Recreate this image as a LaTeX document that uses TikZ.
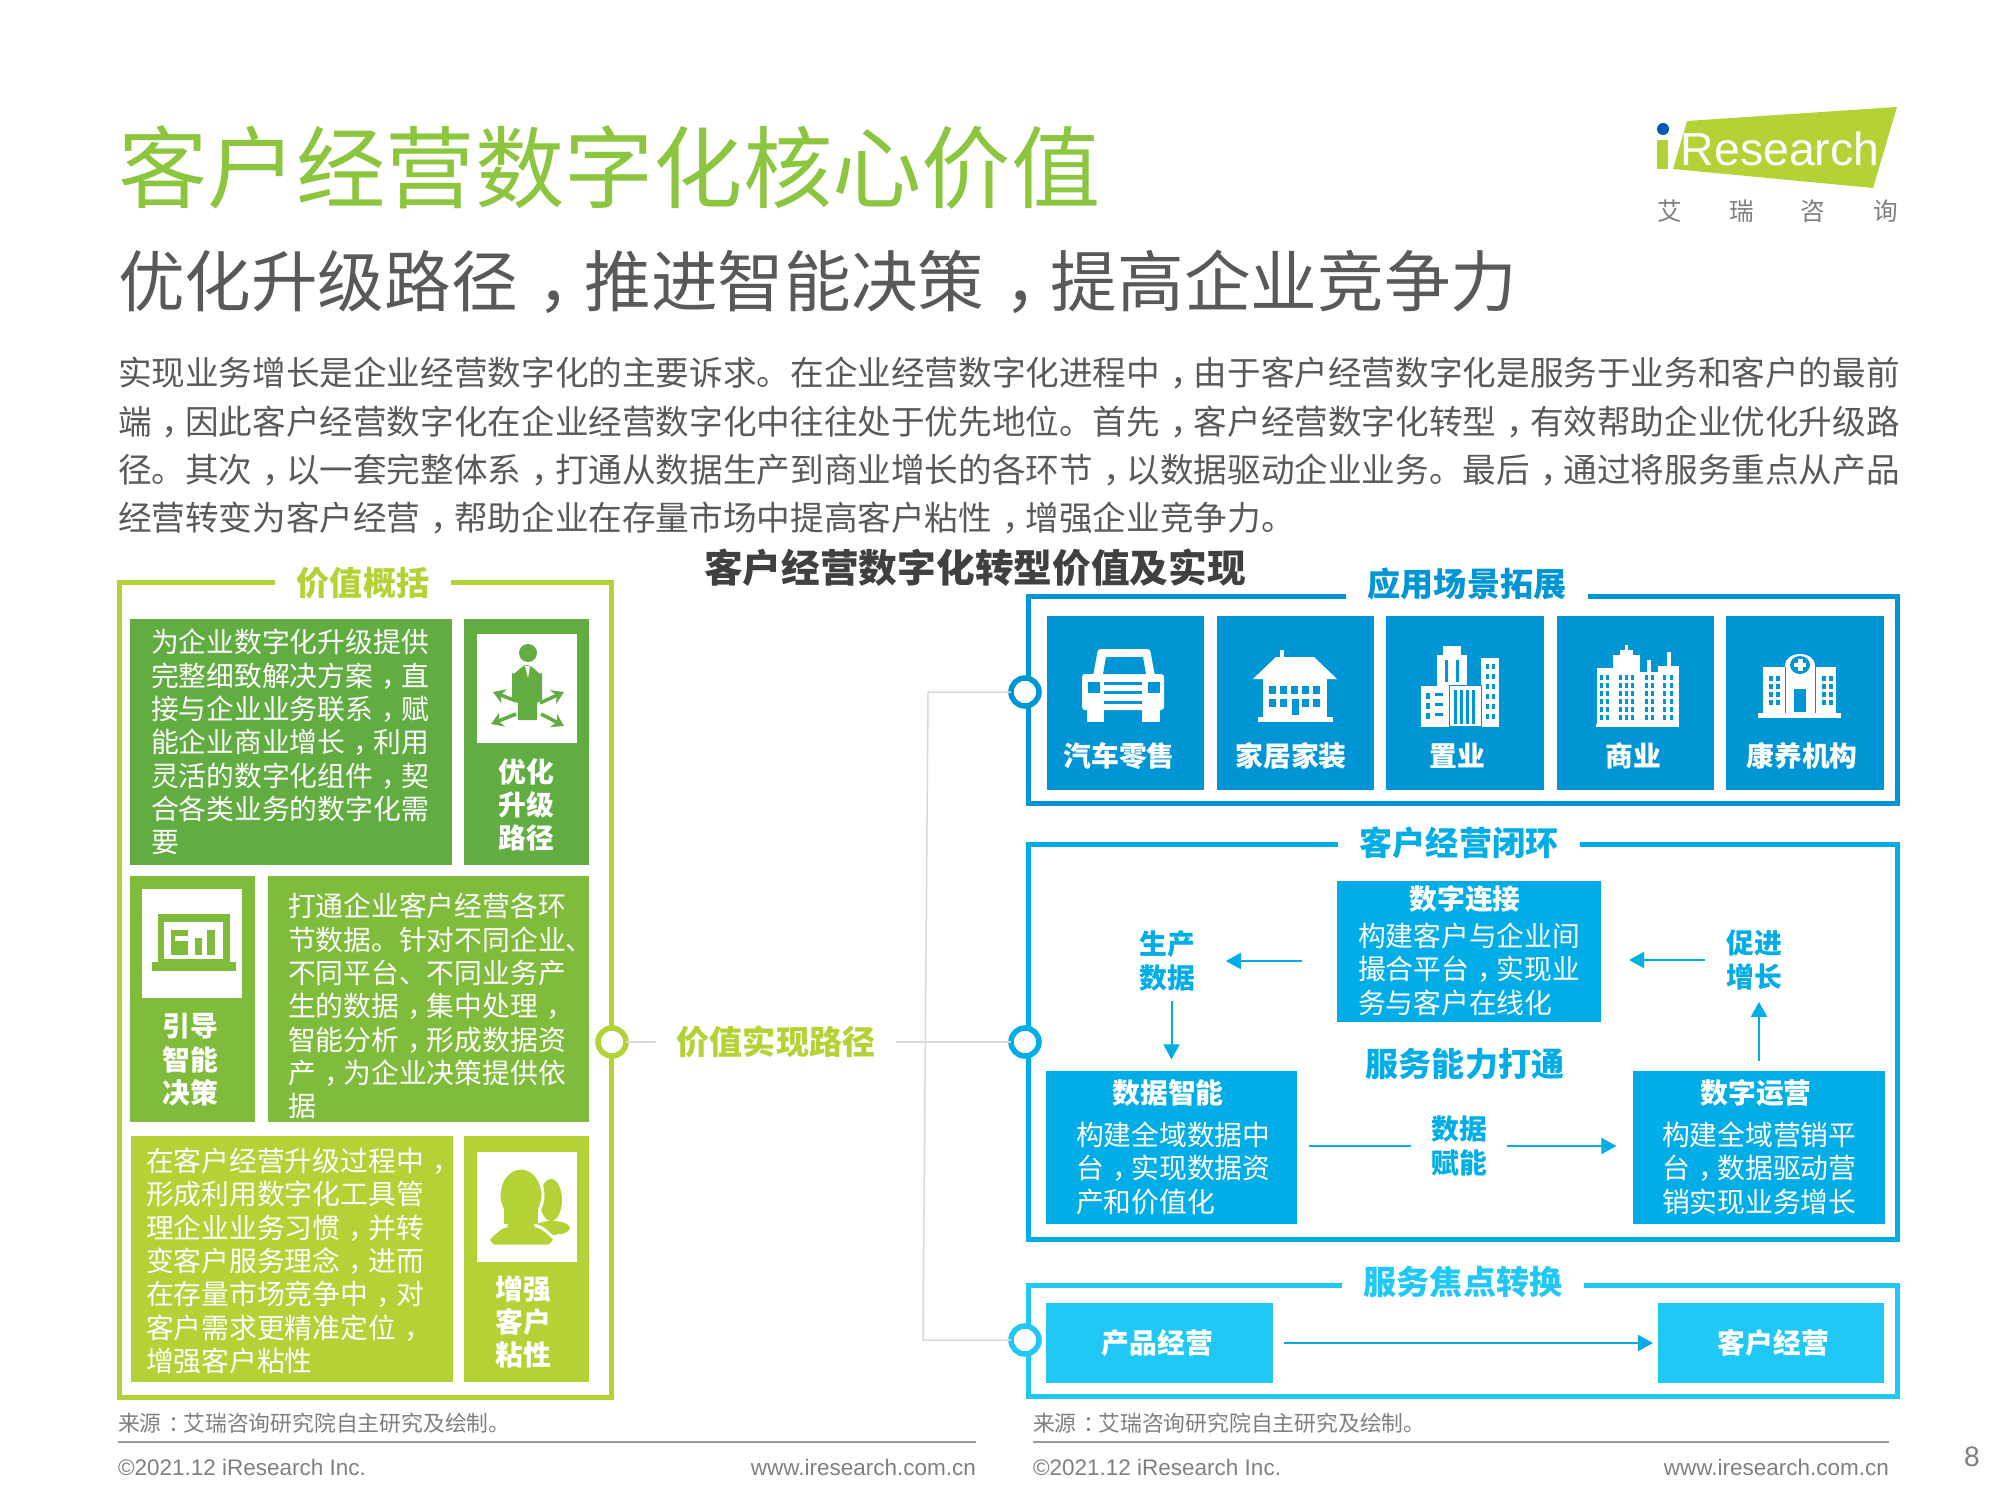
\documentclass[tikz,border=0pt]{standalone}
\usepackage{fontspec}
\setmainfont{Noto Sans CJK SC}
\newfontfamily\latinfont{Liberation Sans}
\usepackage{xcolor}
\usetikzlibrary{arrows.meta}
\definecolor{titleGreen}{HTML}{8CC63F}
\definecolor{limeGreen}{HTML}{B2D235}
\definecolor{deepGreen}{HTML}{62AD41}
\definecolor{midGreen}{HTML}{80BC3B}
\definecolor{appBlue}{HTML}{0096D6}
\definecolor{loopBlue}{HTML}{00ADE6}
\definecolor{focusBlue}{HTML}{1FC8F5}
\definecolor{darkText}{HTML}{595959}
\definecolor{figText}{HTML}{404040}
\definecolor{noteGray}{HTML}{7F7F7F}
\definecolor{linkGray}{HTML}{D9D9D9}
\newcommand{\cma}{\makebox[1em][l]{\hspace{0.3em}，}}
\newcommand{\cln}{\makebox[1em][l]{\hspace{0.3em}：}}

\begin{document}
\begin{tikzpicture}[
  x=0.01cm, y=-0.01cm,
  every node/.style={inner sep=0pt, outer sep=0pt},
  frame/.style={draw=#1, line width=0.05cm, fill=none, rectangle},
  frametitle/.style={fill=white, text=#1, inner xsep=0.22cm, inner ysep=0pt, font=\fontsize{9.4pt}{11pt}\selectfont\bfseries},
  ring/.style={circle, draw=#1, line width=0.055cm, fill=white, minimum size=0.28cm},
  panel/.style={fill=#1, rectangle},
  square/.style={fill=white, rectangle, minimum width=1cm},
  para/.style={anchor=west, align=left, text=white, font=\fontsize{7.9pt}{9.48pt}\selectfont},
  tag/.style={align=center, text=white, font=\fontsize{7.9pt}{9.48pt}\selectfont\bfseries},
  head/.style={text=white, font=\fontsize{7.9pt}{9.48pt}\selectfont\bfseries},
  step label/.style={align=center, text=loopBlue, font=\fontsize{7.9pt}{9.48pt}\selectfont\bfseries},
  note/.style={anchor=west, text=noteGray, font=\fontsize{6.2pt}{7.5pt}\selectfont},
  foot/.style={text=noteGray, font=\latinfont\fontsize{6.4pt}{7.5pt}\selectfont},
  rule/.style={draw=noteGray!80, line width=0.02cm},
  link/.style={draw=linkGray, line width=0.015cm},
  arrow/.style={-{Triangle[length=0.15cm,width=0.16cm]}, draw=#1, line width=0.02cm},
  spread/.style={-{Stealth[length=0.12cm,width=0.15cm]}, draw=deepGreen, line width=0.035cm}
]
  \useasboundingbox (0,0) rectangle (2000,1500);

  \node[anchor=west, text=titleGreen, font=\fontsize{25.4pt}{30pt}\selectfont] (maintitle) at (118,168) {客户经营数字化核心价值};
  \node[anchor=west, text=darkText, font=\fontsize{18.95pt}{23pt}\selectfont] (subtitle) at (118,282) {优化升级路径\cma 推进智能决策\cma 提高企业竞争力};
  \node[anchor=west, align=left, text=darkText, font=\fontsize{9.56pt}{13.74pt}\selectfont] (intro) at (118,446) {实现业务增长是企业经营数字化的主要诉求。在企业经营数字化进程中\cma 由于客户经营数字化是服务于业务和客户的最前\\端\cma 因此客户经营数字化在企业经营数字化中往往处于优先地位。首先\cma 客户经营数字化转型\cma 有效帮助企业优化升级路\\径。其次\cma 以一套完整体系\cma 打通从数据生产到商业增长的各环节\cma 以数据驱动企业业务。最后\cma 通过将服务重点从产品\\经营转变为客户经营\cma 帮助企业在存量市场中提高客户粘性\cma 增强企业竞争力。};
  \node[text=figText, font=\fontsize{11pt}{13pt}\selectfont\bfseries] (figtitle) at (975,568) {客户经营数字化转型价值及实现};

  \fill[limeGreen] (1687,121) -- (1897,107) -- (1873,188) -- (1673,169) -- cycle;
  \fill[limeGreen] (1657,140) rectangle (1668,169);
  \fill[blue!50!cyan!70!black] (1663,129) circle (6);
  \node[text=white, font=\latinfont\fontsize{13.2pt}{15pt}\selectfont] (logotext) at (1780,149) {Research};
  \node[text=noteGray, font=\fontsize{7pt}{8pt}\selectfont] (logoA) at (1670,211) {艾};
  \node[text=noteGray, font=\fontsize{7pt}{8pt}\selectfont] (logoB) at (1742,211) {瑞};
  \node[text=noteGray, font=\fontsize{7pt}{8pt}\selectfont] (logoC) at (1813,211) {咨};
  \node[text=noteGray, font=\fontsize{7pt}{8pt}\selectfont] (logoD) at (1886,211) {询};

  \node[frame=limeGreen, minimum width=4.91cm, minimum height=8.14cm] (valueframe) at (365.5,990) {};
  \node[frametitle=limeGreen] (valuetitle) at (363,583) {价值概括};

  \node[panel=deepGreen, minimum width=3.22cm, minimum height=2.46cm] (boxA) at (291,742) {};
  \node[para] (textA) at (151,742) {为企业数字化升级提供\\完整细致解决方案\cma 直\\接与企业业务联系\cma 赋\\能企业商业增长\cma 利用\\灵活的数字化组件\cma 契\\合各类业务的数字化需\\要};
  \node[panel=deepGreen, minimum width=1.25cm, minimum height=2.46cm] (tagboxA) at (526.5,742) {};
  \node[square, minimum height=1.09cm] (iconA) at (527,688.5) {};
  \node[tag] (tagA) at (526,805) {优化\\升级\\路径};

  \node[panel=midGreen, minimum width=1.25cm, minimum height=2.46cm] (tagboxB) at (192.5,999) {};
  \node[square, minimum height=1.09cm] (iconB) at (192,943.5) {};
  \node[tag] (tagB) at (190,1060) {引导\\智能\\决策};
  \node[panel=midGreen, minimum width=3.21cm, minimum height=2.46cm] (boxB) at (428.5,999) {};
  \node[para] (textB) at (288,1006) {打通企业客户经营各环\\节数据。针对不同企业、\\不同平台、不同业务产\\生的数据\cma 集中处理\cma \\智能分析\cma 形成数据资\\产\cma 为企业决策提供依\\据};

  \node[panel=limeGreen, minimum width=3.22cm, minimum height=2.46cm] (boxC) at (292,1259) {};
  \node[para] (textC) at (146,1261) {在客户经营升级过程中\cma \\形成利用数字化工具管\\理企业业务习惯\cma 并转\\变客户服务理念\cma 进而\\在存量市场竞争中\cma 对\\客户需求更精准定位\cma \\增强客户粘性};
  \node[panel=limeGreen, minimum width=1.25cm, minimum height=2.46cm] (tagboxC) at (526.5,1259) {};
  \node[square, minimum height=1.1cm] (iconC) at (527,1207) {};
  \node[tag] (tagC) at (523,1322) {增强\\客户\\粘性};

  \fill[deepGreen] (528,653) circle (9);
  \fill[deepGreen] (512,672) to[out=-80,in=180] (527,665) to[out=0,in=-100] (542,672) -- (542,700) -- (537,703) -- (537,720) -- (518,720) -- (518,703) -- (512,700) -- cycle;
  \fill[white] (525,666) -- (530,666) -- (528,678) -- cycle;
  \draw[spread] (516,701) -- (493,692);
  \draw[spread] (516,714) -- (491,724);
  \draw[spread] (540,703) -- (564,692);
  \draw[spread] (541,714) -- (564,726);

  \fill[midGreen] (158,914) rectangle (230,962);
  \fill[midGreen] (152,962) rectangle (236,971);
  \fill[white] (164,922) rectangle (223,959);
  \fill[midGreen] (171,930) rectangle (188,955);
  \fill[white] (175,936) rectangle (188,941);
  \fill[midGreen] (195,938) rectangle (202,955);
  \fill[midGreen] (207,930) rectangle (215,955);

  \fill[limeGreen] (551,1200) ellipse (11 and 21);
  \fill[limeGreen] (552,1228) ellipse (18 and 7);
  \draw[white, line width=0.03cm, fill=limeGreen] (521,1195) ellipse (22 and 27);
  \draw[white, line width=0.03cm, fill=limeGreen] (486,1237) to[out=-90,in=180] (506,1226) -- (508,1215) -- (534,1215) -- (536,1226) to[out=0,in=-90] (558,1237) to[out=90,in=0] (548,1246) -- (494,1246) to[out=180,in=90] cycle;
  \fill[limeGreen] (504,1205) rectangle (538,1224);

  \node[ring=limeGreen] (pathring) at (612,1042) {};
  \node[inner xsep=0.21cm, text=limeGreen, font=\fontsize{9.4pt}{11pt}\selectfont\bfseries] (pathlabel) at (776,1042) {价值实现路径};
  \coordinate (kneeA) at (928,692);
  \coordinate (kneeB) at (923,1340);

  \node[frame=appBlue, minimum width=8.69cm, minimum height=2.06cm] (appframe) at (1463,700) {};
  \node[frametitle=appBlue] (apptitle) at (1467,584) {应用场景拓展};
  \node[panel=appBlue, minimum width=1.57cm, minimum height=1.74cm] (carbox) at (1125.5,703) {};
  \node[panel=appBlue, minimum width=1.57cm, minimum height=1.74cm] (homebox) at (1295.5,703) {};
  \node[panel=appBlue, minimum width=1.57cm, minimum height=1.74cm] (estatebox) at (1465,703) {};
  \node[panel=appBlue, minimum width=1.57cm, minimum height=1.74cm] (shopbox) at (1635.5,703) {};
  \node[panel=appBlue, minimum width=1.57cm, minimum height=1.74cm] (carebox) at (1805,703) {};
  \node[head] (carlabel) at (1119,756) {汽车零售};
  \node[head] (homelabel) at (1291,756) {家居家装};
  \node[head] (estatelabel) at (1457,756) {置业};
  \node[head] (shoplabel) at (1633,756) {商业};
  \node[head] (carelabel) at (1802,756) {康养机构};

  \fill[white, rounded corners=0.03cm] (1092,682) -- (1098,649) -- (1150,649) -- (1156,682) -- cycle;
  \fill[white, rounded corners=0.03cm] (1082,674) rectangle (1164,710);
  \fill[white] (1087,705) rectangle (1104,722);
  \fill[white] (1142,705) rectangle (1160,722);
  \fill[appBlue] (1103,674) -- (1106,657) -- (1143,657) -- (1146,674) -- cycle;
  \fill[appBlue] (1088,682) rectangle (1100,693);
  \fill[appBlue] (1148,682) rectangle (1160,693);
  \foreach \y in {682,691,701} \fill[appBlue] (1104,\y) rectangle (1142,\y+2.5);

  \fill[white] (1280,650) rectangle (1284,660);
  \fill[white] (1276,657) -- (1314,657) -- (1337,679) -- (1253,679) -- cycle;
  \fill[white] (1263,679) rectangle (1327,717);
  \fill[white] (1258,717) rectangle (1333,722);
  \foreach \x in {1269,1280,1291,1302,1313} {
    \fill[appBlue] (\x,686) rectangle (\x+7,694);
  }
  \foreach \x in {1269,1280,1302,1313} {
    \fill[appBlue] (\x,699) rectangle (\x+7,707);
  }
  \fill[appBlue] (1292,699) rectangle (1299,715);

  \fill[white] (1437,655) rectangle (1467,727);
  \fill[white] (1443,646) rectangle (1461,656);
  \fill[white] (1481,658) rectangle (1499,727);
  \fill[white] (1421,686) rectangle (1448,727);
  \draw[appBlue, line width=0.01cm, fill=white] (1449,685) rectangle (1481,726);
  \foreach \x in {1454,1460,1466,1472} {
    \fill[appBlue] (\x,690) rectangle (\x+2.5,724);
  }
  \foreach \x in {1445,1456} {
    \fill[appBlue] (\x,660) rectangle (\x+3,682);
  }
  \foreach \y in {664,674,684,694,704,714} {
    \fill[appBlue] (1486,\y) rectangle (1489,\y+5);
    \fill[appBlue] (1492,\y) rectangle (1495,\y+5);
  }
  \foreach \y in {693,703,713} {
    \fill[appBlue] (1426,\y) rectangle (1430,\y+6);
    \fill[appBlue] (1435,\y) rectangle (1443,\y+3);
  }

  \fill[white] (1597,668) rectangle (1613,726);
  \fill[white] (1613,655) rectangle (1640,726);
  \fill[white] (1625,645) rectangle (1628,655);
  \fill[white] (1620,650) rectangle (1633,656);
  \fill[white] (1640,672) rectangle (1658,726);
  \fill[white] (1647,660) rectangle (1651,672);
  \fill[white] (1658,666) rectangle (1679,726);
  \fill[white] (1667,652) rectangle (1671,666);
  \foreach \y in {675,683,691,699,707,715} {
    \foreach \x in {1600,1606,1619,1625,1631,1645,1651,1663,1670} {
      \fill[appBlue] (\x,\y) rectangle (\x+3,\y+5);
    }
  }
  \fill[white] (1596,724) rectangle (1679,727);

  \fill[white] (1763,667) rectangle (1836,713);
  \fill[white] (1785,665) rectangle (1815,713);
  \fill[white] (1800,665) ellipse (15 and 11);
  \fill[white] (1758,713) rectangle (1841,718);
  \draw[appBlue, line width=0.01cm] (1785,667) -- (1785,713) (1815,667) -- (1815,713);
  \fill[appBlue] (1800,665) ellipse (10 and 9);
  \fill[white] (1797.5,659) rectangle (1802.5,671);
  \fill[white] (1794,663) rectangle (1806,667);
  \fill[appBlue] (1794,689) rectangle (1806,712);
  \foreach \y in {676,684,692,700} {
    \foreach \x in {1769,1776,1822,1829} {
      \fill[appBlue] (\x,\y) rectangle (\x+4,\y+5);
    }
  }

  \node[frame=loopBlue, minimum width=8.69cm, minimum height=3.95cm] (loopframe) at (1463,1042) {};
  \node[frametitle=loopBlue] (looptitle) at (1459,843) {客户经营闭环};
  \node[panel=loopBlue, minimum width=2.64cm, minimum height=1.41cm] (connbox) at (1469,951.5) {};
  \node[head] (connhead) at (1465,899) {数字连接};
  \node[para, font=\fontsize{7.9pt}{9.5pt}\selectfont] (conntext) at (1358,969) {构建客户与企业间\\撮合平台\cma 实现业\\务与客户在线化};
  \node[panel=loopBlue, minimum width=2.51cm, minimum height=1.52cm] (databox) at (1171.5,1147.5) {};
  \node[head] (datahead) at (1168,1093) {数据智能};
  \node[para, font=\fontsize{7.9pt}{9.5pt}\selectfont] (datatext) at (1076,1168) {构建全域数据中\\台\cma 实现数据资\\产和价值化};
  \node[panel=loopBlue, minimum width=2.51cm, minimum height=1.52cm] (opsbox) at (1759,1147.5) {};
  \node[head] (opshead) at (1756,1093) {数字运营};
  \node[para, font=\fontsize{7.9pt}{9.5pt}\selectfont] (opstext) at (1662,1168) {构建全域营销平\\台\cma 数据驱动营\\销实现业务增长};
  \node[step label] (makedata) at (1167,961) {生产\\数据};
  \node[step label] (growth) at (1754,960) {促进\\增长};
  \node[step label] (enable) at (1459,1146) {数据\\赋能};
  \node[text=loopBlue, font=\fontsize{9.4pt}{11pt}\selectfont\bfseries] (ability) at (1465,1064) {服务能力打通};

  \node[frame=focusBlue, minimum width=8.69cm, minimum height=1.11cm] (focusframe) at (1463,1341) {};
  \node[frametitle=focusBlue] (focustitle) at (1463,1282) {服务焦点转换};
  \node[panel=focusBlue, text=white, minimum width=2.27cm, minimum height=0.79cm, font=\fontsize{7.9pt}{9.5pt}\selectfont\bfseries] (productbox) at (1159.5,1343) {\hspace{-0.04cm}产品经营};
  \node[panel=focusBlue, text=white, minimum width=2.26cm, minimum height=0.79cm, font=\fontsize{7.9pt}{9.5pt}\selectfont\bfseries] (customerbox) at (1771,1343) {\hspace{0.05cm}客户经营};

  \node[ring=appBlue] (appring) at (1025,692) {};
  \node[ring=loopBlue] (loopring) at (1025,1042) {};
  \node[ring=focusBlue] (focusring) at (1025,1340) {};

  \draw[link] (pathring) -- (pathlabel);
  \draw[link] (pathlabel) -- (loopring);
  \draw[link] (appring) -- (kneeA) -- (kneeB) -- (focusring);

  \draw[arrow=loopBlue, shorten <=0.35cm, shorten >=0.31cm] (connbox.west |- makedata) -- (makedata);
  \draw[arrow=loopBlue, shorten <=0.21cm, shorten >=0.28cm] (growth.west) -- (connbox.east |- growth);
  \draw[arrow=loopBlue, shorten <=0.1cm, shorten >=0.12cm] (makedata.south -| databox.north) -- (databox.north);
  \draw[arrow=loopBlue, shorten <=0.1cm, shorten >=0.12cm] (opsbox.north) -- (opsbox.north |- growth.south);
  \draw[loopBlue, line width=0.02cm, shorten <=0.12cm, shorten >=0.2cm] (databox.east |- enable) -- (enable);
  \draw[arrow=loopBlue, shorten <=0.2cm, shorten >=0.17cm] (enable) -- (opsbox.west |- enable);
  \draw[arrow=appBlue!60!focusBlue, shorten <=0.11cm, shorten >=0.05cm] (productbox) -- (customerbox);

  \node[note] (sourceA) at (118,1423) {来源\cln 艾瑞咨询研究院自主研究及绘制。};
  \node[note] (sourceB) at (1033,1423) {来源\cln 艾瑞咨询研究院自主研究及绘制。};
  \coordinate (ruleA) at (118,1442);
  \coordinate (ruleB) at (976,1442);
  \coordinate (ruleC) at (1033,1442);
  \coordinate (ruleD) at (1889,1442);
  \draw[rule] (ruleA) -- (ruleB);
  \draw[rule] (ruleC) -- (ruleD);
  \node[foot, anchor=west] (copyA) at (118,1467) {©2021.12 iResearch Inc.};
  \node[foot, anchor=east] (siteA) at (976,1467) {www.iresearch.com.cn};
  \node[foot, anchor=west] (copyB) at (1033,1467) {©2021.12 iResearch Inc.};
  \node[foot, anchor=east] (siteB) at (1889,1467) {www.iresearch.com.cn};
  \node[foot, font=\latinfont\fontsize{8pt}{9pt}\selectfont] (pagenum) at (1972,1457) {8};
\end{tikzpicture}
\end{document}
